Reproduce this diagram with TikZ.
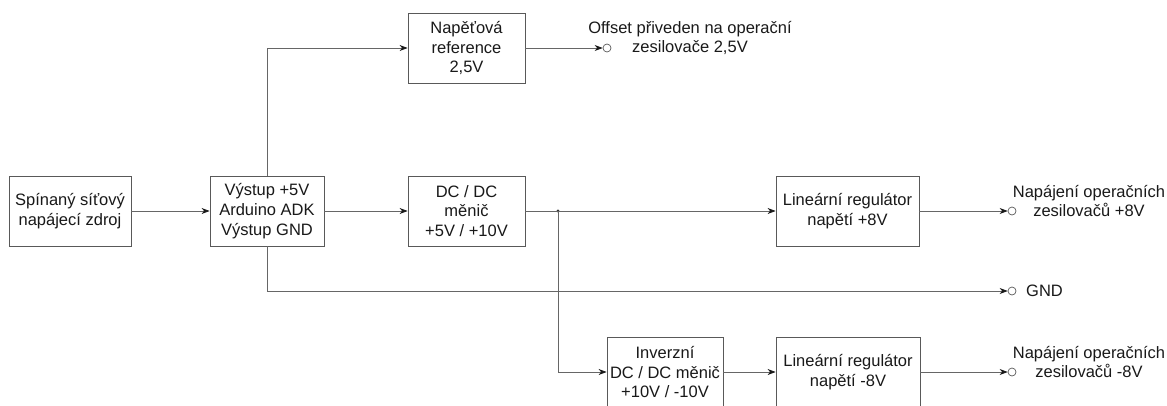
\documentclass[tikz,border=0pt]{standalone}
\usepackage{fontspec}
\setmainfont{Liberation Sans}
\usetikzlibrary{arrows.meta}
\begin{document}
\begin{tikzpicture}[x=1pt,y=-1pt,
  font=\fontsize{16.5}{19.8}\selectfont,
  blockbox/.style={draw=black!65, line width=0.8pt, fill=white, minimum height=70pt, inner sep=0pt, align=center, text=black!90},
  conn/.style={draw=black!60, line width=0.8pt, -{Stealth[length=8pt,width=6pt,inset=2.5pt,color=black!90]}},
  wire/.style={draw=black!60, line width=0.8pt},
  term/.style={circle, draw=black!65, line width=0.7pt, fill=white, minimum size=8pt, inner sep=0pt},
  lbl/.style={align=center, text=black!90, inner sep=0pt}]
\useasboundingbox (0,0) rectangle (1167,405);

% blocks
\node[blockbox, minimum width=122pt] (src) at (70,211) {Spínaný síťový\\napájecí zdroj};
\node[blockbox, minimum width=114pt] (ard) at (267,211) {Výstup +5V\\Arduino ADK\\Výstup GND};
\node[blockbox, minimum width=117pt] (ref) at (466.5,48) {Napěťová\\reference\\2,5V};
\node[blockbox, minimum width=117pt] (dcdc) at (466.5,211) {DC / DC\\měnič\\+5V / +10V};
\node[blockbox, minimum width=143pt] (linp) at (847.5,211) {Lineární regulátor\\napětí +8V};
\node[blockbox, minimum width=116pt] (inv) at (665,372) {Inverzní\\DC / DC měnič\\+10V / -10V};
\node[blockbox, minimum width=144pt] (linm) at (848,372) {Lineární regulátor\\napětí -8V};

% terminals
\node[term] (tref) at (607,48) {};
\node[term] (tp) at (1012,211) {};
\node[term] (tgnd) at (1012,291) {};
\node[term] (tm) at (1012,372) {};

% labels
\node[lbl] (lref) at (690,38) {Offset přiveden na operační\\zesilovače 2,5V};
\node[lbl] (lp) at (1089,201) {Napájení operačních\\zesilovačů +8V};
\node[lbl, anchor=west] (lgnd) at (1026,291) {GND};
\node[lbl] (lm) at (1089,362) {Napájení operačních\\zesilovačů -8V};

% junction
\coordinate (j) at (558,211);
\fill[black!80] (j) circle (1.6pt);

% connectors
\draw[conn] (src.east) -- (ard.west);
\draw[conn] (ard.east) -- (dcdc.west);
\draw[conn] (ard.north) |- (ref.west);
\draw[conn] (ref.east) -- (tref.west);
\draw[wire] (dcdc.east) -- (j);
\draw[conn] (j) -- (linp.west);
\draw[conn] (j) |- (inv.west);
\draw[conn] (inv.east) -- (linm.west);
\draw[conn] (linp.east) -- (tp.west);
\draw[conn] (linm.east) -- (tm.west);
\draw[conn] (ard.south) |- (tgnd.west);
\end{tikzpicture}
\end{document}
